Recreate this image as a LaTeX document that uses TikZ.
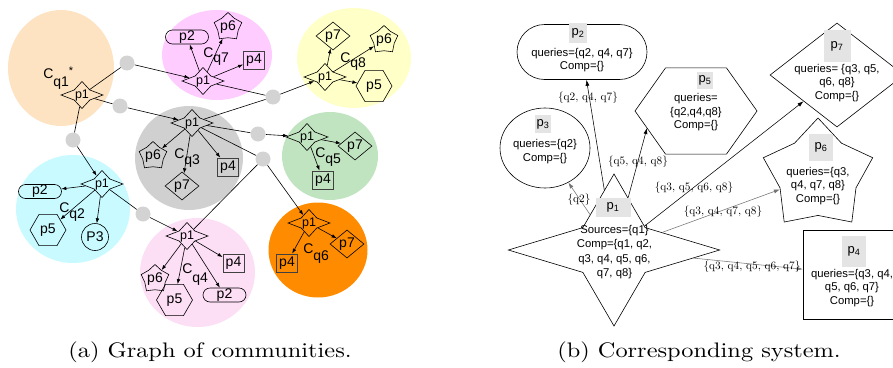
\documentclass[tikz,border=0pt]{standalone}
\usepackage{fontspec}
\newfontfamily\arial{Liberation Sans}
\newfontfamily\capfont{lmroman10-regular.otf}
\usetikzlibrary{shapes.geometric,shapes.misc,arrows.meta}
\definecolor{cpeach}{HTML}{FDE3C1}
\definecolor{cmag}{HTML}{FFCCFF}
\definecolor{cyel}{HTML}{FFFFC8}
\definecolor{cgry}{HTML}{D0D0D0}
\definecolor{cgrn}{HTML}{C0E3C0}
\definecolor{ccyan}{HTML}{C8FAFF}
\definecolor{cpink}{HTML}{FCDEF5}
\definecolor{corng}{HTML}{FF8C00}
\definecolor{cdot}{HTML}{D3D3D3}
\definecolor{clab}{HTML}{E4E4E4}
\tikzset{
 comm/.style={ellipse, inner sep=0pt, draw=none},
 gdot/.style={circle, fill=cdot, minimum size=15pt, inner sep=0pt},
 fstar/.style={star, star points=4, star point ratio=1.9, minimum size=27pt, inner sep=0pt, draw, xscale=1.55, transform shape},
 stxt/.style={font=\arial\fontsize{12.5}{12.5}\selectfont, inner sep=0pt},
 mtxt/.style={font=\arial\fontsize{14}{14}\selectfont},
 pst/.style={star, star points=5, star point ratio=1.35, minimum size=29pt, inner sep=0pt, draw},
 dia/.style={diamond, draw, minimum width=34pt, minimum height=28pt, inner sep=0pt, mtxt},
 hexa/.style={regular polygon, regular polygon sides=6, minimum size=36pt, inner sep=0pt, draw, mtxt},
 sq/.style={rectangle, draw=black!75, line width=0.8pt, minimum width=21pt, minimum height=18pt, inner sep=1.5pt, mtxt},
 pill/.style={rounded rectangle, draw, minimum width=43pt, minimum height=14pt, inner sep=0pt, mtxt},
 circ/.style={circle, draw, minimum size=27pt, inner sep=0pt, mtxt},
 clab/.style={font=\arial\fontsize{14}{14}\selectfont, inner sep=0pt, anchor=base west},
 plab/.style={fill=clab, font=\arial\fontsize{13}{13}\selectfont, inner sep=0pt},
 rtxt/.style={font=\arial\fontsize{11.3}{13.5}\selectfont, align=center, inner sep=0pt},
 elab/.style={font=\capfont\fontsize{11.3}{12}\selectfont, inner sep=0pt},
 ledge/.style={line width=0.6pt},
 redge/.style={line width=0.55pt, -{Latex[length=6pt,width=4pt]}},
 captext/.style={font=\capfont\fontsize{21}{24}\selectfont, inner sep=0pt, anchor=base}
}
\newcommand\lstar[2]{\begin{scope}[shift={(#2)}]\node[fstar] (#1) at (0,0) {};\end{scope}\node[stxt] (#1t) at (#1) {p1};}
\newcommand\pstarnode[2]{\node[pst] (#1) at (#2) {};\node[mtxt, inner sep=0pt] (#1t) at (#1) {p6};}
\begin{document}
\begin{tikzpicture}[x=1pt,y=-1pt, line width=0.6pt, >={Latex[length=5pt,width=3.6pt]}]
\useasboundingbox (0,0) rectangle (893,367);
% communities
\node[comm, fill=cpeach, minimum width=106pt, minimum height=116pt] (Cq1) at (61,68) {};
\node[comm, fill=cmag, minimum width=110pt, minimum height=90pt] (Cq7) at (217,55) {};
\node[comm, fill=cyel, minimum width=114pt, minimum height=100pt] (Cq8) at (354,58) {};
\node[comm, fill=cgry, minimum width=108pt, minimum height=104pt] (Cq3) at (189,158) {};
\node[comm, fill=cgrn, minimum width=96pt, minimum height=88pt] (Cq5) at (330,156) {};
\node[comm, fill=ccyan, minimum width=114pt, minimum height=108pt] (Cq2) at (73,209) {};
\node[comm, fill=cpink, minimum width=115pt, minimum height=109pt] (Cq4) at (197.5,272.5) {};
\node[comm, fill=corng, minimum width=99pt, minimum height=95pt] (Cq6) at (318,250) {};
% dots
\node[gdot] (dA) at (127,63) {};
\node[gdot] (dB) at (120,106) {};
\node[gdot] (dC) at (73,140) {};
\node[gdot] (dD) at (273,97) {};
\node[gdot] (dE) at (258,134) {};
\node[gdot] (dF) at (263,159) {};
\node[gdot] (dG) at (143,214) {};
% stars p1
\lstar{q1}{82,95}
\lstar{q7}{203,81}
\lstar{q3}{192,123}
\lstar{q8}{325,77}
\lstar{q5}{307,137}
\lstar{q2}{102,184}
\lstar{q4}{187,236}
\lstar{q6}{309,223}
% members Cq7
\node[pill] (q7p2) at (187,37) {p2};
\pstarnode{q7p6}{228,27}
\node[sq] (q7p4) at (254,60) {p4};
% Cq3
\pstarnode{q3p6}{153,156}
\node[dia] (q3p7) at (182,186) {p7};
\node[sq] (q3p4) at (228,167) {p4};
% Cq8
\node[dia] (q8p7) at (333,36) {p7};
\pstarnode{q8p6}{384,40}
\node[hexa] (q8p5) at (374,86) {p5};
% Cq5
\node[dia] (q5p7) at (355,146) {p7};
\node[sq] (q5p4) at (323,180) {p4};
% Cq2
\node[pill] (q2p2) at (40,191.5) {p2};
\node[hexa] (q2p5) at (48,230) {p5};
\node[circ] (q2P3) at (95,237) {P3};
% Cq4
\pstarnode{q4p6}{155,279}
\node[hexa] (q4p5) at (174.5,300) {p5};
\node[sq] (q4p4) at (233.5,263.5) {p4};
\node[pill] (q4p2) at (224.5,295) {p2};
% Cq6
\node[sq] (q6p4) at (287,263) {p4};
\node[dia] (q6p7) at (347,244) {p7};
% community labels
\node[clab] (Lq1) at (43,78) {C\raisebox{-8pt}{q1}\raisebox{3.5pt}{\fontsize{11}{11}\selectfont*}};
\node[clab] (Lq7) at (203,57) {C\raisebox{-5pt}{q7}};
\node[clab] (Lq3) at (174,158) {C\raisebox{-6pt}{q3}};
\node[clab] (Lq8) at (340,62) {C\raisebox{-5pt}{q8}};
\node[clab] (Lq5) at (315,157) {C\raisebox{-6pt}{q5}};
\node[clab] (Lq2) at (59,212) {C\raisebox{-6pt}{q2}};
\node[clab] (Lq4) at (182,273) {C\raisebox{-9pt}{q4}};
\node[clab] (Lq6) at (303,253) {C\raisebox{-7pt}{q6}};
% inter-community edges
\draw[ledge] (q1) -- (dA); \draw[ledge,->] (dA) -- (q7);
\draw[ledge] (q1) -- (dB); \draw[ledge,->] (dB) -- (q3);
\draw[ledge] (q1) -- (dC); \draw[ledge,->] (dC) -- (q2);
\draw[ledge] (q7) -- (dD); \draw[ledge] (q3) -- (dD); \draw[ledge,->] (dD) -- (q8);
\draw[ledge] (q3) -- (dE); \draw[ledge,->] (dE) -- (q5);
\draw[ledge] (q3) -- (dF); \draw[ledge,->] (dF) -- (q6); \draw[ledge] (dF) -- (q4);
\draw[ledge] (q2) -- (dG); \draw[ledge,->] (dG) -- (q4);
% intra-community edges
\foreach \a/\b in {q7/q7p2,q7/q7p6,q7/q7p4,q3/q3p6,q3/q3p7,q3/q3p4,q8/q8p7,q8/q8p6,q8/q8p5,q5/q5p7,q5/q5p4,q2/q2p2,q2/q2p5,q2/q2P3,q4/q4p6,q4/q4p5,q4/q4p4,q4/q4p2,q6/q6p4,q6/q6p7}
  \draw[ledge,->] (\a) -- (\b);
% ---------- right panel ----------
\node[rounded rectangle, draw, minimum width=130pt, minimum height=55pt, inner sep=0pt] (P2) at (582,52) {};
\node[ellipse, draw, minimum width=90pt, minimum height=80pt, inner sep=0pt] (P3) at (545,148) {};
\begin{scope}[shift={(696,111)}]
\node[regular polygon, regular polygon sides=6, minimum size=122pt, inner sep=0pt, draw, yscale=0.815, transform shape] (P5) at (0,0) {};
\end{scope}
\node[diamond, draw, minimum width=134pt, minimum height=104pt, inner sep=0pt] (P7) at (837,75) {};
\node[star, star points=5, star point ratio=1.44, minimum size=115pt, inner sep=0pt, draw] (P6) at (818,175.5) {};
\node[rectangle, draw, minimum width=104pt, minimum height=89pt, inner sep=0pt] (P4) at (855,274.5) {};
\begin{scope}[shift={(614,250)}]
\node[star, star points=4, star point ratio=2.4, minimum size=152pt, inner sep=0pt, draw, xscale=1.39, transform shape] (P1) at (0,0) {};
\end{scope}
% labels
\node[plab, minimum width=18pt, minimum height=20pt] (P2l) at (578,33) {p\textsubscript{2}};
\node[rtxt] (P2t) at (582,60) {queries=\{q2, q4, q7\}\\Comp=\{\}};
\node[plab, minimum width=16pt, minimum height=18pt] (P3l) at (543,124) {p\textsubscript{3}};
\node[rtxt] (P3t) at (545,151.5) {queries=\{q2\}\\Comp=\{\}};
\node[plab, minimum width=16pt, minimum height=17pt] (P5l) at (705,80) {p\textsubscript{5}};
\node[rtxt] (P5t) at (696,112.5) {queries=\\\{q2,q4,q8\}\\Comp=\{\}};
\node[plab, minimum width=27pt, minimum height=32pt] (P7l) at (837,46) {p\textsubscript{7}};
\node[rtxt] (P7t) at (837,83) {queries= \{q3, q5,\\q6, q8\}\\Comp=\{\}};
\node[plab, minimum width=24pt, minimum height=27pt] (P6l) at (821,147) {p\textsubscript{6}};
\node[rtxt] (P6t) at (818,186) {queries=\{q3,\\q4, q7, q8\}\\Comp=\{\}};
\node[plab, minimum width=24pt, minimum height=31pt] (P4l) at (854,251) {p\textsubscript{4}};
\node[rtxt] (P4t) at (852,288) {queries=\{q3, q4,\\q5, q6, q7\}\\Comp=\{\}};
\node[plab, minimum width=35pt, minimum height=19pt] (P1l) at (613,207) {p\textsubscript{1}};
\node[rtxt, font=\arial\fontsize{11.3}{14.3}\selectfont] (P1t) at (614.5,252) {Sources=\{q1\}\\Comp=\{q1, q2,\\q3, q4, q5, q6,\\q7, q8\}};
% edges
\coordinate (P5in) at (647,128);
\draw[redge] (P1) -- (P2);
\draw[redge] (P1) -- (P5in);
\draw[redge, draw=black!55] (P1) -- (P3);
\draw[redge] (P1) -- (P7);
\draw[redge, draw=black!55] (P1) -- (P6);
\draw[redge, draw=black!55] (P1) -- (P4);
\node[elab] (l2) at (588,98) {\{q2, q4, q7\}};
\node[elab] (l5) at (638,162) {\{q5, q4, q8\}};
\node[elab] (l3) at (579,200) {\{q2\}};
\node[elab] (l7) at (694,188) {\{q3, q5, q6, q8\}};
\node[elab] (l6) at (723,212) {\{q3, q4, q7, q8\}};
\node[elab] (l4) at (752,267) {\{q3, q4, q5, q6, q7\}};
% captions
\node[captext] (capa) at (210,357) {\scalebox{1.16}[1]{(a) Graph of communities.}};
\node[captext] (capb) at (699,357) {\scalebox{1.16}[1]{(b) Corresponding system.}};
\end{tikzpicture}
\end{document}
